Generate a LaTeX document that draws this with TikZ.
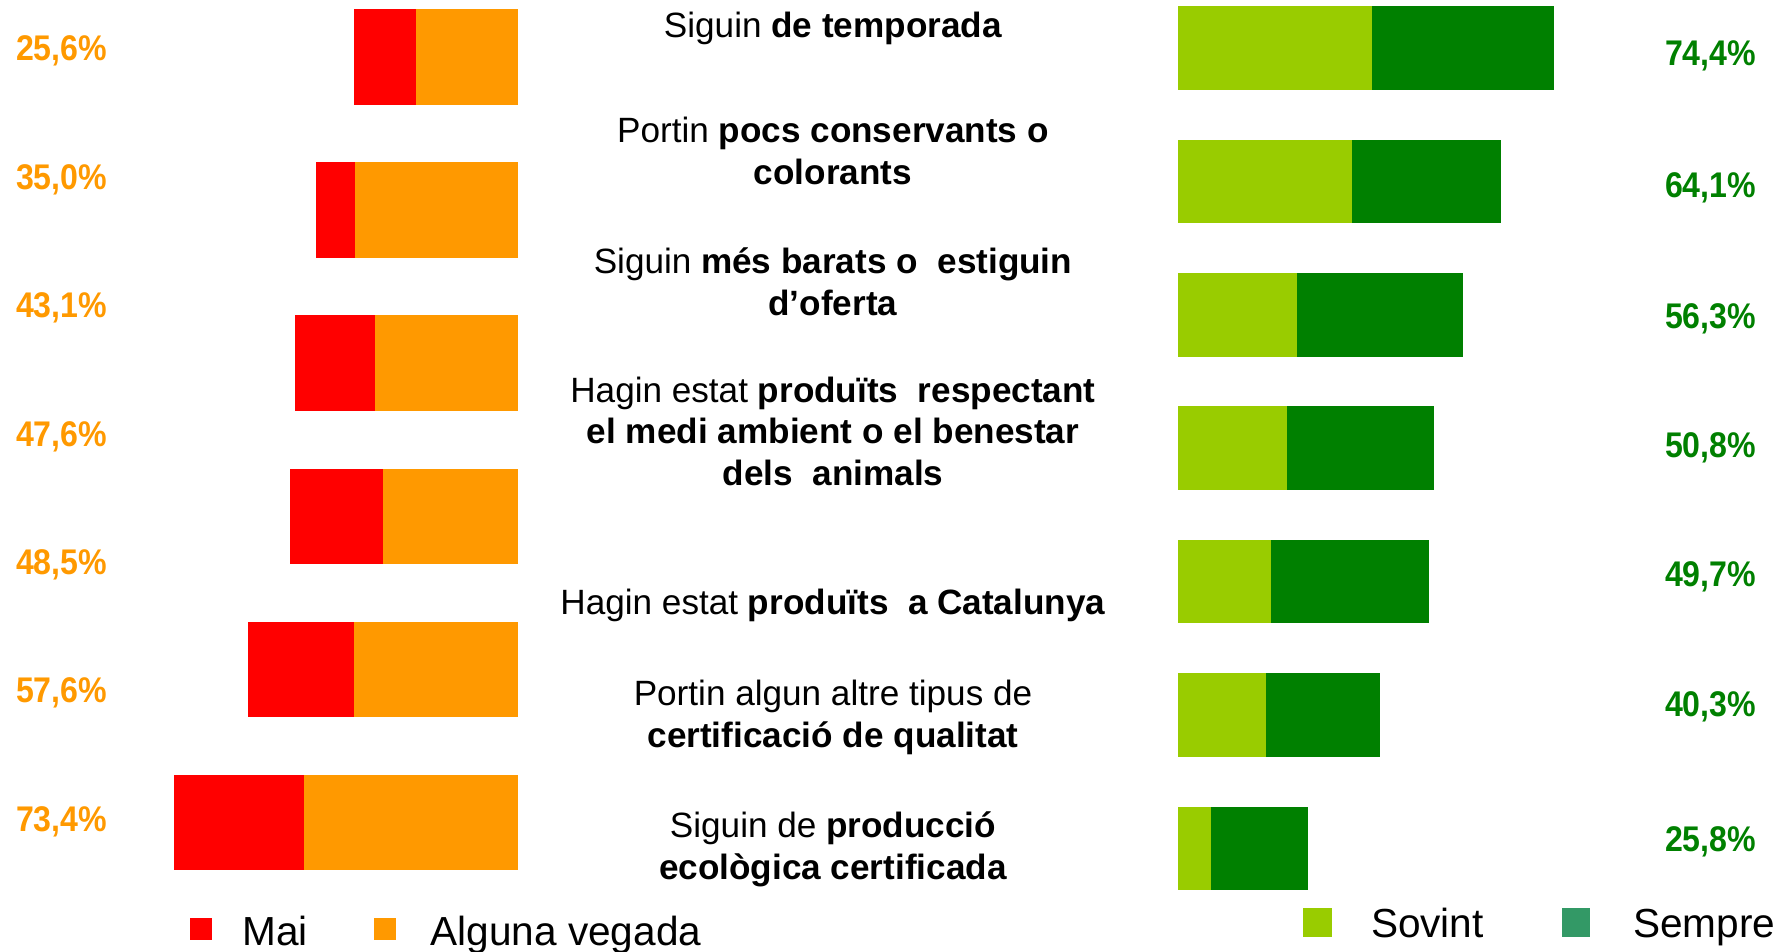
\documentclass[tikz,border=0pt]{standalone}
\usepackage{fontspec}
\setmainfont{Liberation Sans}
\newfontfamily\pctfont[FakeStretch=0.9]{Liberation Sans}
\usetikzlibrary{calc,positioning}
\definecolor{mai}{RGB}{255,0,0}
\definecolor{alguna}{RGB}{255,153,0}
\definecolor{sovint}{RGB}{153,204,0}
\definecolor{sempre}{RGB}{0,128,0}
\definecolor{sempreleg}{RGB}{51,153,102}

\begin{document}
\begin{tikzpicture}[x=0.02cm,y=-0.02cm,every node/.style={inner sep=0pt,outer sep=0pt},
  bar/.style={draw=white,line width=0.5pt},
  crit/.style={align=center,font=\fontsize{20}{23.8}\selectfont},
  pctl/.style={anchor=base west,text=alguna,font=\pctfont\bfseries\fontsize{20.3}{24}\selectfont},
  pctr/.style={anchor=base east,text=sempre,font=\pctfont\bfseries\fontsize{20.3}{24}\selectfont},
  leg/.style={anchor=base west,font=\fontsize{23.1}{27}\selectfont}]
\useasboundingbox (0,0) rectangle (1789,952);
% barres esquerra: mai / alguna vegada
\fill[bar,mai] (354.4,9.7) rectangle (416,104.2);
\fill[bar,alguna] (416,9.7) rectangle (517.4,104.2);
\fill[bar,mai] (316,162.8) rectangle (355,257.3);
\fill[bar,alguna] (355,162.8) rectangle (517.4,257.3);
\fill[bar,mai] (295,315.9) rectangle (375.8,410.4);
\fill[bar,alguna] (375.8,315.9) rectangle (517.4,410.4);
\fill[bar,mai] (290.9,469) rectangle (383,563.5);
\fill[bar,alguna] (383,469) rectangle (517.4,563.5);
\fill[bar,mai] (248,622.1) rectangle (354,716.6);
\fill[bar,alguna] (354,622.1) rectangle (517.4,716.6);
\fill[bar,mai] (174.1,775.2) rectangle (304.6,869.7);
\fill[bar,alguna] (304.6,775.2) rectangle (517.4,869.7);
% barres dreta: sovint / sempre
\fill[bar,sovint] (1178,6.7) rectangle (1372.5,89.2);
\fill[bar,sempre] (1372.5,6.7) rectangle (1553,89.2);
\fill[bar,sovint] (1178,140.1) rectangle (1352.5,222.6);
\fill[bar,sempre] (1352.5,140.1) rectangle (1500.4,222.6);
\fill[bar,sovint] (1178,273.5) rectangle (1297.5,356);
\fill[bar,sempre] (1297.5,273.5) rectangle (1462,356);
\fill[bar,sovint] (1178,406.9) rectangle (1287.7,489.4);
\fill[bar,sempre] (1287.7,406.9) rectangle (1433.6,489.4);
\fill[bar,sovint] (1178,540.3) rectangle (1271.4,622.8);
\fill[bar,sempre] (1271.4,540.3) rectangle (1428.3,622.8);
\fill[bar,sovint] (1178,673.7) rectangle (1266.5,756.2);
\fill[bar,sempre] (1266.5,673.7) rectangle (1379.8,756.2);
\fill[bar,sovint] (1178,807.1) rectangle (1211.5,889.6);
\fill[bar,sempre] (1211.5,807.1) rectangle (1307.3,889.6);
% percentatges
\node[pctl] (MaiPct1) at (16,61) {25,6\%};
\node[pctl] (MaiPct2) at (16,189.4) {35,0\%};
\node[pctl] (MaiPct3) at (16,317.8) {43,1\%};
\node[pctl] (MaiPct4) at (16,446.2) {47,6\%};
\node[pctl] (MaiPct5) at (16,574.6) {48,5\%};
\node[pctl] (MaiPct6) at (16,703) {57,6\%};
\node[pctl] (MaiPct7) at (16,831.4) {73,4\%};
\node[pctr] (SemprePct1) at (1756,66) {74,4\%};
\node[pctr] (SemprePct2) at (1756,197.3) {64,1\%};
\node[pctr] (SemprePct3) at (1756,328.5) {56,3\%};
\node[pctr] (SemprePct4) at (1756,457.5) {50,8\%};
\node[pctr] (SemprePct5) at (1756,586.4) {49,7\%};
\node[pctr] (SemprePct6) at (1756,716.5) {40,3\%};
\node[pctr] (SemprePct7) at (1756,851) {25,8\%};
% criteris
\node[crit] (Criteri1) at (833,28.5) {Siguin \textbf{de temporada}};
\node[crit] (Criteri2) at (833,151.2) {Portin \textbf{pocs conservants o}\\\textbf{colorants}};
\node[crit] (Criteri3) at (833,281.8) {Siguin \textbf{més barats o\ \ estiguin}\\\textbf{d’oferta}};
\node[crit] (Criteri4) at (833,431.3) {Hagin estat \textbf{produïts\ \ respectant}\\\textbf{el medi ambient o el benestar}\\\textbf{dels\ \ animals}};
\node[crit] (Criteri5) at (833,605.8) {Hagin estat \textbf{produïts\ \ a Catalunya}};
\node[crit] (Criteri6) at (833,717.1) {Portin algun altre tipus de\\\textbf{certificació de qualitat}};
\node[crit] (Criteri7) at (833,849.5) {Siguin de \textbf{producció}\\\textbf{ecològica certificada}};
% llegenda
\fill[mai] (190,917.7) rectangle (212.4,940);
\fill[alguna] (374,917.7) rectangle (396,940);
\fill[sovint] (1303,907.7) rectangle (1332,936.7);
\fill[sempreleg] (1562,907.7) rectangle (1590,936.7);
\node[leg] (MaiText) at (242.5,945) {Mai};
\node[leg] (AlgunaText) at (430.5,945) {Alguna vegada};
\node[leg] (SovintText) at (1371,937) {Sovint};
\node[leg] (SempreText) at (1633,937) {Sempre};
\end{tikzpicture}
\end{document}
